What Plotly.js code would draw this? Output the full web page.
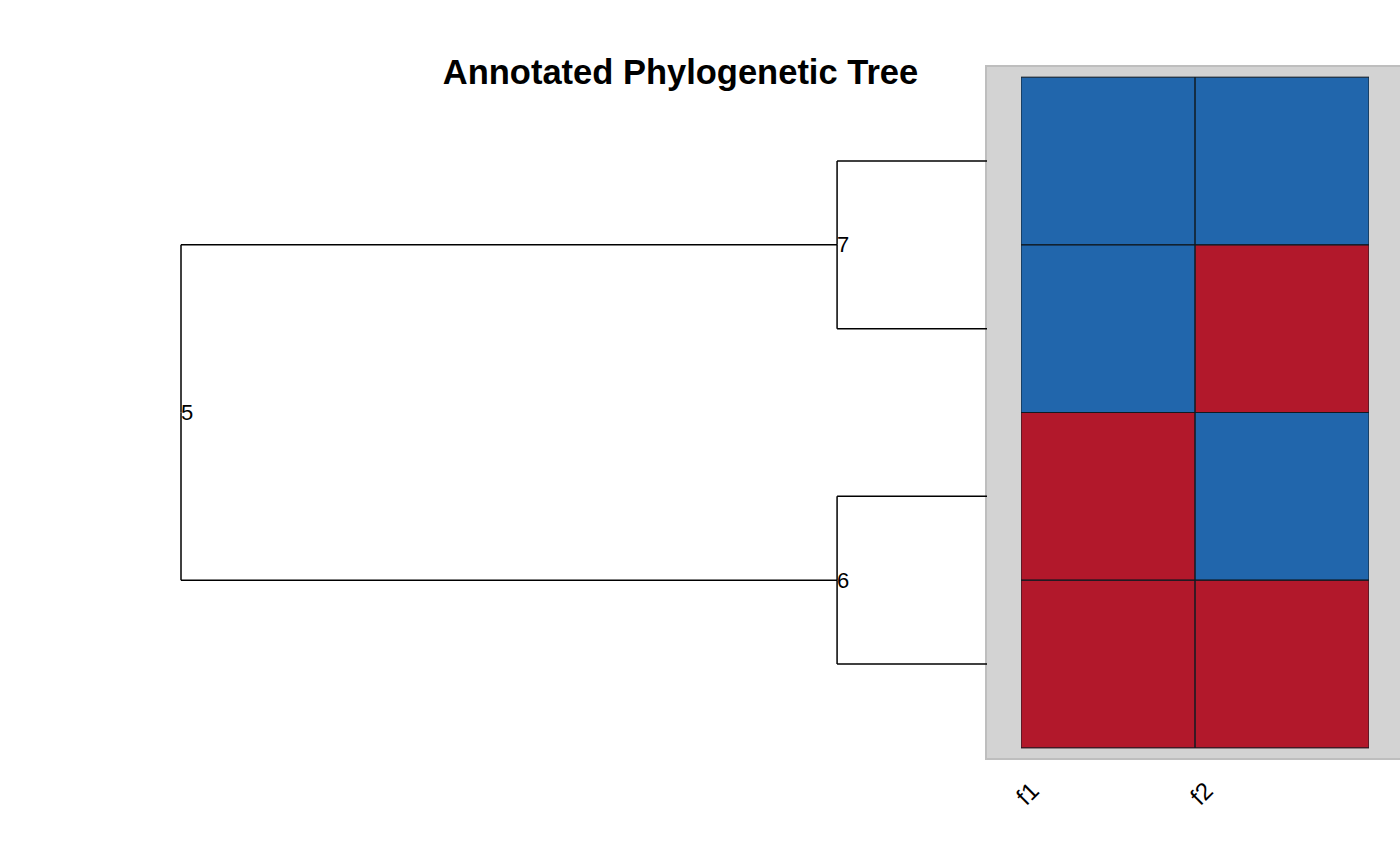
<!DOCTYPE html>
<html>
<head>
<meta charset="utf-8">
<script src="https://cdn.plot.ly/plotly-3.0.1.min.js"></script>
<style>html,body{margin:0;padding:0;background:#fff;}#chart{width:1400px;height:865px;}</style>
</head>
<body>
<div id="chart"></div>
<script>
// ---- data ----
const nodeIds   = [1, 2, 3, 4, 5, 6, 7];
const nodeParent = [7, 7, 6, 6, null, 5, 5];
const nodeDepth = [1.0, 1.0, 1.0, 1.0, 0.0, 0.814, 0.814];
const nodeRow   = [4, 3, 2, 1, 2.5, 1.5, 3.5];
const tipRows = [4, 3, 2, 1];
const traitNames = ["f1", "f2"];
const f1 = [0, 0, 1, 1];   // 0 = blue state, 1 = red state
const f2 = [0, 1, 0, 1];

// ---- tree edges ----
const ex = [], ey = [];
nodeIds.forEach((id, i) => {
  const p = nodeParent[i];
  if (p === null) return;
  const pi = nodeIds.indexOf(p);
  ex.push(nodeDepth[pi], nodeDepth[pi], null);
  ey.push(nodeRow[pi], nodeRow[i], null);
  ex.push(nodeDepth[pi], nodeDepth[i], null);
  ey.push(nodeRow[i], nodeRow[i], null);
});

const treeTrace = {
  type: 'scatter', mode: 'lines', x: ex, y: ey,
  line: {color: '#000', width: 1.5}, hoverinfo: 'skip', xaxis: 'x', yaxis: 'y', showlegend: false
};

const z = tipRows.map((r, i) => [f1[i], f2[i]]);
const heat = {
  type: 'heatmap', x: [0, 1], y: tipRows, z: z, xaxis: 'x2', yaxis: 'y',
  zmin: 0, zmax: 1, showscale: false, hoverinfo: 'skip',
  colorscale: [[0, '#2166AC'], [0.5, '#2166AC'], [0.5, '#B2182B'], [1, '#B2182B']]
};

const shapes = [{
  type: 'rect', xref: 'paper', yref: 'paper', layer: 'below',
  x0: 986/1400, x1: 1.01, y0: (865-759)/865, y1: (865-66)/865,
  fillcolor: '#D3D3D3', line: {color: '#BEBEBE', width: 2}
}];
tipRows.forEach(r => {
  traitNames.forEach((t, j) => {
    shapes.push({type: 'rect', xref: 'x2', yref: 'y', layer: 'above',
      x0: j - 0.5, x1: j + 0.5, y0: r - 0.5, y1: r + 0.5,
      line: {color: '#111a22', width: 1}, fillcolor: 'rgba(0,0,0,0)'});
  });
});

const annotations = [];
nodeIds.forEach((id, i) => {
  if (nodeDepth[i] < 1) {
    annotations.push({x: nodeDepth[i], y: nodeRow[i], xref: 'x', yref: 'y', text: String(id),
      showarrow: false, xanchor: 'left', yanchor: 'middle', borderpad: 0, xshift: -1,
      font: {family: 'Liberation Sans, Arial, sans-serif', size: 22, color: '#000'}});
  }
});
traitNames.forEach((t, j) => {
  annotations.push({x: j - 0.5 + 0.035, y: (865-793)/865, xref: 'x2', yref: 'paper', text: t,
    showarrow: false, textangle: -45, xanchor: 'center', yanchor: 'middle',
    font: {family: 'Liberation Sans, Arial, sans-serif', size: 24, color: '#000'}});
});

const hidden = {showgrid: false, zeroline: false, showticklabels: false, ticks: '', showline: false, fixedrange: true};
const layout = {
  width: 1400, height: 865,
  margin: {l: 0, r: 0, t: 0, b: 0},
  paper_bgcolor: '#fff', plot_bgcolor: 'rgba(0,0,0,0)',
  showlegend: false,
  title: {text: '<b>Annotated Phylogenetic Tree</b>', x: 680.5/1400, xanchor: 'center',
    y: 1 - 72/865, yanchor: 'middle', yref: 'container',
    font: {family: 'Liberation Sans, Arial, sans-serif', size: 34.5, color: '#000'}},
  xaxis: Object.assign({domain: [0, 1], range: [-181/806, 1219/806]}, hidden),
  xaxis2: Object.assign({domain: [1021/1400, 1369/1400], range: [-0.5, 1.5], anchor: 'y'}, hidden),
  yaxis: Object.assign({domain: [0, 1], range: [1 - 201/167.67, 4 + 161/167.67]}, hidden),
  shapes: shapes, annotations: annotations
};

Plotly.newPlot('chart', [treeTrace, heat], layout, {displayModeBar: false, staticPlot: true});
</script>
</body>
</html>
